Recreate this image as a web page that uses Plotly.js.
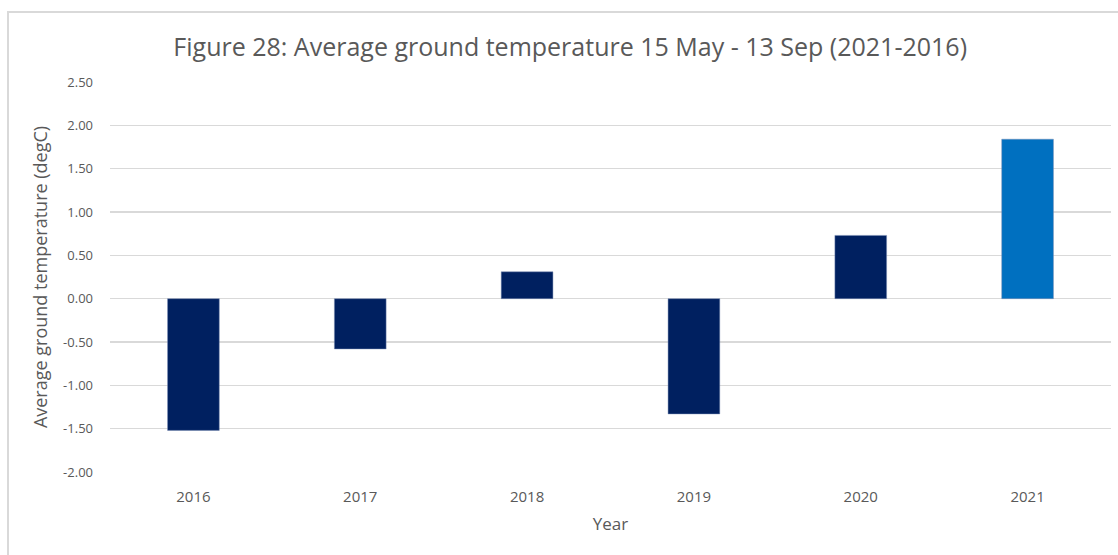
<!DOCTYPE html>
<html>
<head>
<meta charset="utf-8">
<script src="https://cdn.plot.ly/plotly-3.0.1.min.js"></script>
<style>
  html, body { margin: 0; padding: 0; background: #fff; }
  #wrap { position: relative; width: 1118px; height: 555px; overflow: hidden; }
  #chart { position: absolute; left: 0; top: 0; width: 1118px; height: 555px; }
  #frame { position: absolute; left: 7px; top: 11px; width: 1200px; height: 700px;
           border-left: 2px solid #d9d9d9; border-top: 2px solid #d9d9d9; pointer-events: none; }
</style>
</head>
<body>
<div id="wrap">
  <div id="chart"></div>
  <div id="frame"></div>
</div>
<script>
const years = ['2016', '2017', '2018', '2019', '2020', '2021'];
const temps = [-1.52, -0.58, 0.31, -1.33, 0.73, 1.84];
const barColors = ['#002060', '#002060', '#002060', '#002060', '#002060', '#0070C0'];
const yTickVals = [-2, -1.5, -1, -0.5, 0, 0.5, 1, 1.5, 2, 2.5];
const yTickText = ['-2.00', '-1.50', '-1.00', '-0.50', '0.00', '0.50', '1.00', '1.50', '2.00', '2.50'];
const yMin = -2, yMax = 2.5;

const font = '"Open Sans", "Noto Sans", sans-serif';

const data = [{
  type: 'bar',
  x: years,
  y: temps,
  marker: { color: barColors, line: { color: 'rgba(120,140,180,0.6)', width: 0.8 } },
  width: 0.31,
  hoverinfo: 'x+y'
}];

const layout = {
  width: 1118,
  height: 555,
  margin: { l: 110, r: 7, t: 82, b: 83 },
  paper_bgcolor: '#ffffff',
  plot_bgcolor: '#ffffff',
  showlegend: false,
  title: {
    text: 'Figure 28: Average ground temperature 15 May - 13 Sep (2021-2016)',
    font: { family: font, size: 25, color: '#595959' },
    x: 0.51, xanchor: 'center', y: 0.915, yanchor: 'middle'
  },
  xaxis: {
    type: 'category',
    showgrid: false,
    zeroline: false,
    showline: false,
    ticks: '',
    tickfont: { family: font, size: 15, color: '#595959' },
    ticklabelstandoff: 14,
    title: { text: 'Year', font: { family: font, size: 17, color: '#595959' }, standoff: 13 }
  },
  xaxis2: {
    overlaying: 'x',
    anchor: 'free',
    position: (0 - yMin) / (yMax - yMin),
    range: [-0.5, 5.5],
    tickvals: [0.5, 1.5, 2.5, 3.5, 4.5],
    showticklabels: false,
    ticks: 'outside',
    ticklen: 5,
    tickwidth: 1.5,
    tickcolor: '#d9d9d9',
    showgrid: false,
    zeroline: false,
    showline: true,
    linecolor: '#d9d9d9',
    linewidth: 1.5
  },
  yaxis: {
    range: [yMin, yMax],
    tickvals: yTickVals,
    ticktext: yTickText,
    showgrid: true,
    gridcolor: '#d9d9d9',
    gridwidth: 1.5,
    zeroline: false,
    showline: false,
    ticks: '',
    ticklabelstandoff: 16,
    tickfont: { family: font, size: 13, color: '#595959' },
    title: { text: 'Average ground temperature (degC)', font: { family: font, size: 18, color: '#595959' }, standoff: 10 }
  },
  bargap: 0.69
};

Plotly.newPlot('chart', data, layout, { displayModeBar: false, staticPlot: true });
</script>
</body>
</html>
